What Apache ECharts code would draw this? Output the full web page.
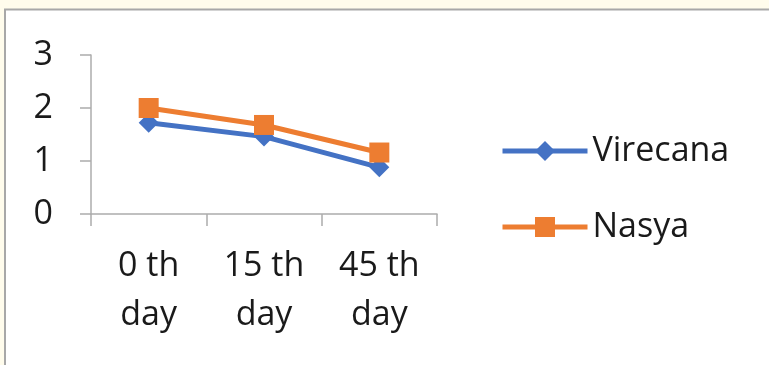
<!DOCTYPE html>
<html>
<head>
<meta charset="utf-8">
<script src="https://cdn.jsdelivr.net/npm/echarts@6/dist/echarts.min.js"></script>
<style>
  html, body { margin: 0; padding: 0; background: #fffcec; }
  #chart { width: 769px; height: 365px; }
</style>
</head>
<body>
<div id="chart"></div>
<script>
// Time points of the assessment
const categories = ['0 th day', '15 th day', '45 th day'];
// Mean scores per group
const virecana = [1.72, 1.46, 0.88];
const nasya = [2.0, 1.68, 1.16];
// Value axis range
const yMin = 0, yMax = 3, yStep = 1;

const FONT = '"Open Sans", sans-serif';
const AXIS_GRAY = '#acacac';

const chart = echarts.init(document.getElementById('chart'));
chart.setOption({
  animation: false,
  backgroundColor: 'transparent',
  graphic: [
    {
      type: 'rect',
      z: -10,
      silent: true,
      shape: { x: 5, y: 9.5, width: 800, height: 400 },
      style: { fill: '#ffffff', stroke: '#a8a8a8', lineWidth: 2 }
    }
  ],
  grid: { left: 91, right: 332, top: 55, bottom: 151 },
  legend: {
    orient: 'vertical',
    left: 500,
    top: 131,
    padding: 0,
    itemWidth: 85,
    itemHeight: 25,
    itemGap: 36,
    lineStyle: { width: 5 },
    textStyle: { fontFamily: FONT, fontSize: 34, color: '#1a1a1a', lineHeight: 40 },
    data: ['Virecana', 'Nasya']
  },
  xAxis: {
    type: 'category',
    data: categories,
    boundaryGap: true,
    axisLine: { lineStyle: { color: AXIS_GRAY, width: 1.5 } },
    axisTick: { show: true, length: 12, lineStyle: { color: AXIS_GRAY, width: 1.5 } },
    axisLabel: {
      fontFamily: FONT,
      fontSize: 34,
      color: '#1a1a1a',
      lineHeight: 49,
      margin: 28,
      formatter: v => v.replace(' day', '\nday')
    },
    splitLine: { show: false }
  },
  yAxis: {
    type: 'value',
    min: yMin,
    max: yMax,
    interval: yStep,
    axisLine: { show: true, lineStyle: { color: AXIS_GRAY, width: 1.5 } },
    axisTick: { show: true, length: 11, lineStyle: { color: AXIS_GRAY, width: 1.5 } },
    axisLabel: { fontFamily: FONT, fontSize: 34, color: '#1a1a1a', margin: 38 },
    splitLine: { show: false }
  },
  series: [
    {
      name: 'Virecana',
      type: 'line',
      data: virecana,
      symbol: 'diamond',
      symbolSize: 20,
      itemStyle: { color: '#4472c4' },
      lineStyle: { color: '#4472c4', width: 5 }
    },
    {
      name: 'Nasya',
      type: 'line',
      data: nasya,
      symbol: 'rect',
      symbolSize: 20,
      itemStyle: { color: '#ed7d31' },
      lineStyle: { color: '#ed7d31', width: 5 }
    }
  ]
});
</script>
</body>
</html>
